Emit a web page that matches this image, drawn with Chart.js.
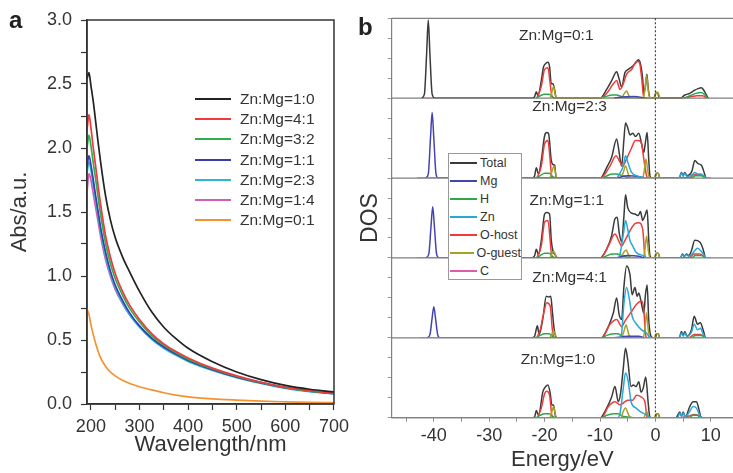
<!DOCTYPE html>
<html>
<head>
<meta charset="utf-8">
<title>Abs dan DOS</title>
<script src="https://cdn.jsdelivr.net/npm/chart.js@4.4.1/dist/chart.umd.min.js"></script>
<style>
  body { margin: 0; width: 733px; height: 473px; overflow: hidden; position: relative; background: #fff; font-family: 'Liberation Sans', Arial, sans-serif; color: #333; }
  canvas { position: absolute; top: 0; }
  #grafikA { left: 0; }
  #grafikB { left: 355px; }
  .hurufPanel { position: absolute; font-size: 24px; font-weight: bold; line-height: 24px; color: #222; }
  #legendaA { position: absolute; left: 195px; top: 89px; }
  .barisA { height: 20.17px; display: flex; align-items: center; font-size: 15.5px; white-space: nowrap; }
  .garisA { width: 36px; height: 0; border-top: 2.5px solid; margin-right: 9px; }
  #legendaB { position: absolute; left: 448px; top: 153px; width: 72px; height: 125px; border: 1px solid #999; background: #fff; }
  .barisB { height: 18.07px; display: flex; align-items: center; font-size: 12.5px; white-space: nowrap; }
  .garisB { width: 27px; height: 0; border-top: 2px solid; margin-left: 1px; margin-right: 3px; }
</style>
</head>
<body>
<canvas id="grafikA" width="355" height="473"></canvas>
<canvas id="grafikB" width="378" height="473"></canvas>
<div class="hurufPanel" style="left:9px;top:8px;">a</div>
<div class="hurufPanel" style="left:358px;top:15px;">b</div>
<div id="legendaA"></div>
<div id="legendaB"></div>
<script>
// 1. Data panel a: serapan (Abs) terhadap panjang gelombang
const panjangGelombang = [192, 196, 200, 205, 210, 215, 220, 230, 240, 250, 265, 280, 300, 325, 350, 375, 400, 450, 500, 550, 600, 650, 700];
const absZn10 = [2.54, 2.59, 2.49, 2.36, 2.20, 2.04, 1.89, 1.63, 1.44, 1.30, 1.15, 1.03, 0.88, 0.72, 0.60, 0.51, 0.435, 0.33, 0.25, 0.19, 0.145, 0.115, 0.095];
const absZn41 = [2.14, 2.26, 2.16, 2.00, 1.85, 1.70, 1.56, 1.32, 1.15, 1.02, 0.88, 0.77, 0.66, 0.55, 0.47, 0.41, 0.36, 0.28, 0.22, 0.17, 0.13, 0.105, 0.085];
const absZn32 = [2.00, 2.10, 2.02, 1.88, 1.75, 1.61, 1.48, 1.26, 1.10, 0.98, 0.85, 0.745, 0.64, 0.535, 0.46, 0.40, 0.35, 0.275, 0.215, 0.168, 0.128, 0.10, 0.083];
const absZn11 = [1.85, 1.94, 1.87, 1.75, 1.62, 1.50, 1.38, 1.19, 1.04, 0.93, 0.81, 0.71, 0.61, 0.515, 0.445, 0.39, 0.34, 0.268, 0.21, 0.165, 0.127, 0.10, 0.082];
const absZn23 = [1.80, 1.89, 1.83, 1.71, 1.59, 1.47, 1.35, 1.16, 1.02, 0.91, 0.79, 0.695, 0.60, 0.505, 0.435, 0.38, 0.333, 0.262, 0.205, 0.16, 0.122, 0.096, 0.08];
const absZn14 = [1.65, 1.80, 1.75, 1.64, 1.53, 1.42, 1.31, 1.13, 1.00, 0.895, 0.785, 0.695, 0.605, 0.515, 0.445, 0.39, 0.343, 0.272, 0.215, 0.17, 0.13, 0.102, 0.08];
const absZn01 = [0.74, 0.70, 0.62, 0.54, 0.47, 0.41, 0.36, 0.295, 0.25, 0.22, 0.185, 0.16, 0.135, 0.11, 0.088, 0.07, 0.056, 0.04, 0.03, 0.022, 0.017, 0.013, 0.01];
const labelRasio = ['Zn:Mg=1:0', 'Zn:Mg=4:1', 'Zn:Mg=3:2', 'Zn:Mg=1:1', 'Zn:Mg=2:3', 'Zn:Mg=1:4', 'Zn:Mg=0:1'];
const seriAbs = [absZn10, absZn41, absZn32, absZn11, absZn23, absZn14, absZn01];
const warnaRasio = ['#222222', '#ee3a3a', '#2fae4e', '#3b3eaa', '#2cb7d9', '#d45db2', '#f6922e'];

// 2. Data panel b: DOS per spesies, satu daftar titik [energi, DOS] untuk tiap sub-panel (atas ke bawah)
const rasioPanel = ['Zn:Mg=0:1', 'Zn:Mg=2:3', 'Zn:Mg=1:1', 'Zn:Mg=4:1', 'Zn:Mg=1:0'];
const spesies = ['Total', 'Mg', 'H', 'Zn', 'O-host', 'O-guest', 'C'];

const dosTotal = [
  [[-42.2,0],[-41.7,0.05],[-41.3,0.55],[-41.0,0.98],[-40.7,0.55],[-40.3,0.05],[-39.8,0],
   [-22.2,0],[-21.8,0.02],[-21.5,0.08],[-21.2,0.03],[-20.6,0.22],[-20.2,0.39],[-19.7,0.44],[-19.4,0.45],[-19.1,0.39],[-18.8,0.18],[-18.5,0.18],[-18.2,0.11],[-17.9,0],
   [-9.9,0],[-9.7,0.01],[-8.8,0.11],[-7.9,0.22],[-7.0,0.33],[-6.55,0.24],[-6.1,0.14],[-5.5,0.32],[-4.9,0.36],[-4.3,0.39],[-3.7,0.43],[-3.1,0.48],[-2.7,0.43],[-2.3,0.24],[-2.1,0.06],[-1.8,0.15],[-1.55,0.3],[-1.3,0.12],[-1.0,0.01],[-0.3,0],[0.1,0.07],[0.4,0.07],[0.7,0],
   [4.5,0],[5.3,0.04],[6.2,0.06],[7.1,0.1],[7.7,0.12],[8.3,0.13],[8.9,0.08],[9.5,0]],
  [[-22.2,0],[-21.8,0.03],[-21.5,0.13],[-21.1,0.05],[-20.6,0.22],[-20.0,0.53],[-19.6,0.57],[-19.3,0.56],[-18.8,0.22],[-18.5,0.17],[-18.2,0.16],[-17.9,0],
   [-9.9,0],[-9.7,0.01],[-8.8,0.13],[-7.9,0.26],[-7.0,0.49],[-6.55,0.32],[-6.1,0.15],[-5.7,0.47],[-5.4,0.69],[-5.0,0.63],[-4.6,0.54],[-4.1,0.56],[-3.6,0.52],[-3.0,0.56],[-2.5,0.43],[-2.1,0.32],[-1.8,0.45],[-1.5,0.57],[-1.2,0.22],[-1.0,0.03],[-0.7,0],[-0.1,0],[0.2,0.06],[0.5,0.06],[0.8,0],
   [4.3,0],[4.7,0.07],[5.0,0.03],[5.3,0.07],[5.7,0.03],[6.6,0.09],[7.1,0.22],[7.7,0.18],[8.3,0.16],[8.7,0.09],[9.1,0]],
  [[-22.2,0],[-21.8,0.03],[-21.5,0.11],[-21.1,0.04],[-20.6,0.22],[-20.0,0.55],[-19.6,0.57],[-19.1,0.55],[-18.8,0.22],[-18.5,0.09],[-18.0,0.03],[-17.7,0],
   [-9.9,0],[-9.7,0.01],[-8.8,0.11],[-7.9,0.28],[-7.3,0.49],[-6.9,0.51],[-6.55,0.32],[-6.1,0.2],[-5.7,0.51],[-5.4,0.79],[-5.0,0.63],[-4.3,0.56],[-3.7,0.55],[-3.1,0.53],[-2.7,0.58],[-2.3,0.47],[-1.9,0.53],[-1.5,0.6],[-1.2,0.22],[-1.0,0.03],[-0.7,0],[-0.1,0],[0.2,0.06],[0.5,0.06],[0.8,0],
   [4.5,0],[4.9,0.05],[5.2,0.02],[5.6,0.05],[6.0,0.03],[6.5,0.09],[7.1,0.22],[8.0,0.2],[8.6,0.11],[9.0,0]],
  [[-22.2,0],[-21.8,0.02],[-21.3,0.15],[-21.0,0.04],[-20.3,0.25],[-19.7,0.52],[-19.3,0.51],[-18.9,0.52],[-18.6,0.33],[-18.3,0.12],[-17.9,0],
   [-9.7,0],[-9.4,0.02],[-8.5,0.14],[-7.6,0.31],[-7.0,0.5],[-6.55,0.29],[-6.1,0.23],[-5.7,0.63],[-5.2,0.9],[-4.6,0.79],[-4.2,0.54],[-3.7,0.63],[-3.3,0.52],[-3.0,0.56],[-2.5,0.42],[-2.1,0.31],[-1.8,0.54],[-1.5,0.66],[-1.2,0.21],[-0.8,0.02],[-0.4,0],[0.0,0],[0.2,0.05],[0.5,0.05],[0.8,0],
   [4.3,0],[4.7,0.08],[5.0,0.03],[5.3,0.08],[5.7,0.02],[6.5,0.1],[7.0,0.27],[7.6,0.17],[8.1,0.19],[8.6,0.1],[9.0,0]],
  [[-22.2,0],[-21.8,0.01],[-21.5,0.09],[-21.1,0.03],[-20.3,0.33],[-19.8,0.39],[-19.4,0.41],[-19.0,0.31],[-18.7,0.16],[-18.4,0.16],[-18.0,0.01],[-17.7,0],
   [-9.9,0],[-9.7,0.01],[-8.8,0.12],[-7.9,0.26],[-7.3,0.39],[-6.7,0.2],[-6.3,0.3],[-5.8,0.62],[-5.4,0.87],[-5.0,0.72],[-4.4,0.39],[-4.0,0.41],[-3.5,0.39],[-3.0,0.45],[-2.6,0.32],[-2.2,0.37],[-1.75,0.51],[-1.3,0.18],[-1.0,0.01],[-0.6,0],[0.0,0],[0.2,0.05],[0.5,0.05],[0.8,0],
   [3.7,0],[4.4,0.07],[4.7,0.02],[5.0,0.07],[5.4,0.01],[6.2,0.14],[6.8,0.2],[7.4,0.2],[7.8,0.12],[8.2,0.01],[8.5,0]]
];
const dosMg = [
  [[-7.5,0],[-6.0,0.015],[-4.0,0.02],[-2.5,0.01],[-2.0,0]],
  [[-41.5,0],[-41.0,0.05],[-40.6,0.5],[-40.3,0.82],[-40.0,0.5],[-39.6,0.05],[-39.2,0],[-7.5,0],[-5.0,0.03],[-3.0,0.02],[-2.0,0]],
  [[-41.4,0],[-40.9,0.05],[-40.5,0.4],[-40.2,0.64],[-39.9,0.4],[-39.5,0.05],[-39.1,0],[-7.5,0],[-5.0,0.03],[-3.0,0.02],[-2.0,0]],
  [[-41.2,0],[-40.7,0.04],[-40.3,0.25],[-40.0,0.39],[-39.7,0.25],[-39.3,0.04],[-38.9,0],[-7.5,0],[-5.0,0.02],[-3.0,0.02],[-2.0,0]],
  []
];
const dosH = [
  [[-21.5,0],[-20.8,0.03],[-20.0,0.05],[-19.2,0.05],[-18.6,0.02],[-18.0,0],[-9.8,0],[-9.0,0.02],[-7.8,0.04],[-7.0,0.04],[-6.0,0.02],[-5.0,0.01],[-4.0,0],[5.0,0],[6.2,0.03],[7.3,0.06],[8.2,0.07],[8.8,0.05],[9.4,0]],
  [[-21.5,0],[-20.8,0.03],[-20.0,0.06],[-19.2,0.06],[-18.6,0.02],[-18.0,0],[-9.8,0],[-9.0,0.02],[-7.8,0.05],[-7.0,0.05],[-6.0,0.03],[-5.0,0.01],[-4.0,0],[6.5,0],[7.2,0.03],[8.3,0.03],[9.0,0]],
  [[-21.5,0],[-20.8,0.03],[-20.0,0.06],[-19.2,0.06],[-18.6,0.02],[-18.0,0],[-9.8,0],[-9.0,0.02],[-7.8,0.05],[-7.0,0.05],[-6.0,0.03],[-5.0,0.01],[-4.0,0],[6.5,0],[7.2,0.03],[8.3,0.03],[9.0,0]],
  [[-21.5,0],[-20.8,0.03],[-20.0,0.05],[-19.2,0.05],[-18.6,0.02],[-18.0,0],[-9.6,0],[-8.8,0.03],[-7.6,0.05],[-6.8,0.05],[-6.0,0.02],[-5.0,0.01],[-4.0,0],[6.5,0],[7.2,0.03],[8.3,0.03],[9.0,0]],
  [[-21.5,0],[-20.8,0.03],[-20.0,0.05],[-19.2,0.05],[-18.6,0.02],[-18.0,0],[-9.6,0],[-8.8,0.03],[-7.6,0.05],[-6.8,0.05],[-6.0,0.02],[-5.0,0.01],[-4.0,0],[6.0,0],[6.8,0.03],[7.5,0.03],[8.1,0]]
];
const dosZn = [
  [],
  [[-43.0,0],[-7.0,0],[-6.7,0.03],[-5.8,0.15],[-5.4,0.28],[-5.0,0.2],[-4.3,0.07],[-3.5,0.03],[-2.3,0.01],[-1.5,0],[4.2,0],[4.7,0.06],[5.0,0.02],[5.3,0.06],[5.7,0.02],[6.6,0.04],[7.1,0.07],[7.7,0.05],[8.1,0.05],[8.7,0.03],[9.2,0],[10.0,0]],
  [[-43.0,0],[-6.8,0],[-6.4,0.05],[-5.7,0.34],[-5.4,0.47],[-5.0,0.36],[-4.6,0.22],[-4.1,0.15],[-3.5,0.07],[-2.3,0.03],[-1.5,0],[4.4,0],[4.9,0.04],[5.2,0.02],[5.6,0.04],[6.0,0.02],[6.6,0.05],[7.2,0.1],[7.6,0.12],[8.3,0.08],[8.8,0.03],[9.2,0],[10.0,0]],
  [[-9.0,0],[-6.5,0],[-6.1,0.06],[-5.7,0.42],[-5.2,0.63],[-4.7,0.48],[-4.2,0.27],[-3.4,0.17],[-2.5,0.1],[-1.6,0.06],[-1.2,0.02],[-0.8,0],[4.3,0],[4.7,0.06],[5.0,0.02],[5.3,0.06],[5.7,0.02],[6.5,0.07],[7.0,0.17],[7.6,0.1],[8.1,0.12],[8.6,0.05],[9.0,0]],
  [[-9.0,0],[-6.8,0],[-6.4,0.05],[-5.8,0.37],[-5.4,0.56],[-4.9,0.45],[-4.4,0.2],[-3.5,0.12],[-2.6,0.07],[-1.75,0.04],[-1.2,0.01],[-0.8,0],[4.0,0],[4.4,0.06],[4.7,0.02],[5.0,0.06],[5.4,0.01],[6.2,0.08],[6.8,0.14],[7.4,0.12],[7.8,0.06],[8.2,0]]
];
const dosOHost = [
  [[-21.4,0],[-20.6,0.15],[-20.0,0.36],[-19.4,0.38],[-19.0,0.18],[-18.7,0.03],[-18.4,0],[-9.9,0],[-8.8,0.06],[-7.6,0.18],[-7.0,0.22],[-6.4,0.11],[-5.8,0.18],[-5.2,0.3],[-4.3,0.36],[-3.4,0.46],[-2.9,0.45],[-2.5,0.26],[-2.1,0.01],[-1.8,0],[5.0,0],[6.5,0.02],[7.5,0.03],[8.5,0.03],[9.3,0]],
  [[-21.4,0],[-20.6,0.15],[-20.0,0.43],[-19.4,0.47],[-19.0,0.22],[-18.7,0.01],[-18.4,0],[-9.9,0],[-8.2,0.15],[-7.1,0.28],[-6.55,0.22],[-5.9,0.15],[-5.2,0.24],[-4.3,0.38],[-3.6,0.47],[-3.0,0.47],[-2.5,0.43],[-2.1,0.24],[-1.6,0.03],[-1.3,0],[6.0,0],[7.0,0.04],[8.0,0.04],[8.7,0.02],[9.1,0]],
  [[-21.4,0],[-20.6,0.15],[-20.0,0.45],[-19.4,0.47],[-19.0,0.22],[-18.7,0.01],[-18.4,0],[-9.9,0],[-8.5,0.15],[-7.3,0.3],[-6.55,0.2],[-6.1,0.15],[-5.5,0.22],[-4.6,0.34],[-3.7,0.43],[-3.0,0.44],[-2.3,0.36],[-1.9,0.03],[-1.6,0],[6.0,0],[7.0,0.05],[8.0,0.05],[8.7,0.02],[9.1,0]],
  [[-21.4,0],[-20.8,0.1],[-20.2,0.3],[-19.6,0.44],[-19.0,0.4],[-18.6,0.1],[-18.3,0],[-9.7,0],[-8.2,0.17],[-7.0,0.23],[-6.1,0.14],[-5.5,0.21],[-4.3,0.33],[-3.4,0.42],[-2.5,0.46],[-2.1,0.35],[-1.8,0.05],[-1.5,0],[6.0,0],[7.0,0.04],[8.0,0.04],[8.7,0.02],[9.1,0]],
  [[-21.3,0],[-20.6,0.12],[-20.0,0.3],[-19.6,0.33],[-19.1,0.28],[-18.7,0.03],[-18.4,0],[-9.7,0],[-8.5,0.14],[-7.3,0.2],[-6.4,0.16],[-5.5,0.2],[-5.0,0.22],[-4.1,0.22],[-3.4,0.28],[-2.6,0.26],[-1.9,0.2],[-1.5,0.01],[-1.2,0],[4.5,0],[6.0,0.02],[7.0,0.04],[7.8,0.03],[8.2,0]]
];
const dosOGuest = [
  [[-19.0,0],[-18.6,0.1],[-18.4,0.15],[-18.1,0.05],[-17.8,0],[-6.2,0],[-5.6,0.06],[-5.2,0.09],[-4.8,0.03],[-4.3,0],[-2.2,0],[-1.9,0.1],[-1.6,0.28],[-1.3,0.1],[-1.0,0],[-0.2,0],[0.15,0.07],[0.45,0.07],[0.8,0]],
  [[-19.0,0],[-18.6,0.1],[-18.3,0.15],[-18.0,0.05],[-17.8,0],[-6.3,0],[-5.8,0.07],[-5.4,0.15],[-4.8,0.03],[-4.3,0],[-2.3,0],[-2.0,0.1],[-1.7,0.24],[-1.4,0.1],[-1.1,0],[-0.2,0],[0.15,0.06],[0.45,0.06],[0.8,0]],
  [[-19.0,0],[-18.6,0.06],[-18.3,0.08],[-18.0,0.03],[-17.8,0],[-6.3,0],[-5.8,0.06],[-5.3,0.1],[-4.8,0.03],[-4.3,0],[-2.2,0],[-1.9,0.1],[-1.6,0.27],[-1.3,0.1],[-1.0,0],[-0.2,0],[0.15,0.06],[0.45,0.06],[0.8,0]],
  [[-19.0,0],[-18.6,0.06],[-18.3,0.08],[-18.0,0.03],[-17.8,0],[-6.2,0],[-5.7,0.08],[-5.3,0.16],[-4.8,0.04],[-4.3,0],[-2.2,0],[-1.9,0.12],[-1.6,0.31],[-1.3,0.1],[-1.0,0],[-0.2,0],[0.15,0.05],[0.45,0.05],[0.8,0]],
  [[-19.0,0],[-18.6,0.1],[-18.4,0.14],[-18.1,0.05],[-17.8,0],[-6.2,0],[-5.8,0.08],[-5.4,0.12],[-4.8,0.03],[-4.3,0],[-2.1,0],[-1.8,0.05],[-1.6,0.08],[-1.3,0.03],[-1.0,0],[-0.2,0],[0.15,0.05],[0.45,0.05],[0.8,0]]
];
const dosC = [
  [[-41.8,0],[-40.2,0]],
  [],
  [],
  [[-42.5,0],[9.2,0]],
  [[-24.2,0],[10.0,0]]
];
const warnaSpesies = ['#3a3a3a', '#4444b0', '#2aa84a', '#28a8d4', '#ee3b3b', '#a8a028', '#e25aaa'];

// 3. Pengaturan umum
Chart.defaults.font.family = "'Liberation Sans', Arial, sans-serif";
Chart.defaults.color = '#333';

// Plugin bingkai kotak untuk panel a
const bingkaiA = {
  id: 'bingkaiA',
  afterDatasetsDraw(chart) {
    const a = chart.chartArea;
    const c = chart.ctx;
    c.save();
    c.strokeStyle = '#333';
    c.lineWidth = 1.5;
    c.strokeRect(a.left, a.top, a.right - a.left, a.bottom - a.top);
    c.restore();
  }
};

// Plugin garis pemisah sub-panel, garis Fermi dan label rasio untuk panel b
const posisiLabel = [[-17.9, 0.78], [-15.5, 0.89], [-16.0, 0.72], [-15.5, 0.75], [-17.6, 0.72]];
const bingkaiB = {
  id: 'bingkaiB',
  beforeDatasetsDraw(chart) {
    const a = chart.chartArea;
    const c = chart.ctx;
    c.save();
    c.strokeStyle = '#808080';
    c.lineWidth = 1.2;
    c.beginPath();
    c.moveTo(a.left, a.top);
    c.lineTo(a.right, a.top);
    rasioPanel.forEach(function(nama, p) {
      const y = chart.scales['y' + p].getPixelForValue(0);
      c.moveTo(a.left, y);
      c.lineTo(a.right, y);
    });
    c.stroke();
    c.restore();
  },
  afterDatasetsDraw(chart) {
    const a = chart.chartArea;
    const c = chart.ctx;
    const x0 = chart.scales.x.getPixelForValue(0);
    c.save();
    c.strokeStyle = '#444';
    c.lineWidth = 1.2;
    c.setLineDash([2, 2]);
    c.beginPath();
    c.moveTo(x0, a.top);
    c.lineTo(x0, a.bottom);
    c.stroke();
    c.setLineDash([]);
    c.fillStyle = '#333';
    c.font = "15.5px 'Liberation Sans', Arial, sans-serif";
    c.textAlign = 'center';
    c.textBaseline = 'middle';
    rasioPanel.forEach(function(nama, p) {
      const px = chart.scales.x.getPixelForValue(posisiLabel[p][0]);
      const py = chart.scales['y' + p].getPixelForValue(posisiLabel[p][1]);
      c.fillText(nama, px, py);
    });
    c.restore();
  }
};

// 4. Grafik panel a
new Chart(document.getElementById('grafikA'), {
  type: 'line',
  data: {
    datasets: seriAbs.map(function(nilai, i) {
      return {
        label: labelRasio[i],
        data: panjangGelombang.map(function(x, j) { return { x: x, y: nilai[j] }; }),
        borderColor: warnaRasio[i],
        borderWidth: 1.7,
        pointRadius: 0,
        cubicInterpolationMode: 'monotone',
        fill: false
      };
    })
  },
  options: {
    responsive: false,
    animation: false,
    events: [],
    layout: { padding: { top: 20, right: 16, left: 0, bottom: 0 } },
    plugins: { legend: { display: false }, tooltip: { enabled: false } },
    scales: {
      x: {
        type: 'linear', min: 192, max: 700,
        ticks: { stepSize: 50, includeBounds: false, autoSkip: false, maxRotation: 0, padding: 6, font: { size: 18 },
          callback: function(v) { return v % 100 === 0 ? String(v) : ''; } },
        grid: { drawOnChartArea: false, tickLength: 6, color: '#333', tickWidth: 1.2 },
        border: { color: '#333', width: 1.5 },
        title: { display: true, text: 'Wavelength/nm', font: { size: 22 }, padding: { top: 0, bottom: 15 } },
        afterFit: function(s) { s.height = 69; }
      },
      y: {
        type: 'linear', min: 0, max: 3,
        ticks: { stepSize: 0.25, autoSkip: false, padding: 9, font: { size: 18 },
          callback: function(v) { return Math.abs(v * 2 - Math.round(v * 2)) < 1e-6 ? v.toFixed(1) : ''; } },
        grid: { drawOnChartArea: false, tickLength: 6, color: '#333', tickWidth: 1.2 },
        border: { color: '#333', width: 1.5 },
        title: { display: true, text: 'Abs/a.u.', font: { size: 22 }, padding: { top: 7, bottom: 0 } },
        afterFit: function(s) { s.width = 87; }
      }
    }
  },
  plugins: [bingkaiA]
});

// 5. Grafik panel b: lima sumbu y yang ditumpuk
const skalaB = {
  x: {
    type: 'linear', min: -47.6, max: 14,
    ticks: { stepSize: 5, includeBounds: false, autoSkip: false, maxRotation: 0, padding: 4, font: { size: 18 },
      callback: function(v) { return v % 10 === 0 ? String(v) : ''; } },
    grid: { drawOnChartArea: false, tickLength: 4, color: '#888' },
    border: { color: '#808080', width: 1.2 },
    title: { display: true, text: 'Energy/eV', font: { size: 22 }, padding: { top: 0, bottom: 0 } },
    afterFit: function(s) { s.height = 55.3; }
  }
};
for (let p = rasioPanel.length - 1; p >= 0; p--) {
  skalaB['y' + p] = {
    type: 'linear', position: 'left', stack: 'dos', stackWeight: 1, min: 0, max: 1,
    ticks: { display: false, stepSize: 0.25 },
    grid: { drawOnChartArea: false, tickLength: 4, color: '#999' },
    border: { color: '#808080', width: 1.2 },
    title: { display: p === 2, text: 'DOS', font: { size: 23 }, padding: { top: 2, bottom: 0 } },
    afterFit: function(s) { s.width = 36.7; }
  };
}

const urutanGambar = [6, 3, 1, 5, 2, 4, 0]; // C paling atas, Total paling bawah
const dataSpesies = [dosTotal, dosMg, dosH, dosZn, dosOHost, dosOGuest, dosC];
const datasetB = [];
urutanGambar.forEach(function(s) {
  dataSpesies[s].forEach(function(titik, p) {
    if (titik.length === 0) return;
    datasetB.push({
      label: spesies[s],
      data: titik.map(function(t) { return { x: t[0], y: t[1] }; }),
      yAxisID: 'y' + p,
      borderColor: warnaSpesies[s],
      borderWidth: 1.5,
      pointRadius: 0,
      cubicInterpolationMode: 'monotone',
      fill: false
    });
  });
});

new Chart(document.getElementById('grafikB'), {
  type: 'line',
  data: { datasets: datasetB },
  options: {
    responsive: false,
    animation: false,
    events: [],
    layout: { padding: { top: 18.3, right: 0, left: 0, bottom: 0 } },
    plugins: { legend: { display: false }, tooltip: { enabled: false } },
    scales: skalaB
  },
  plugins: [bingkaiB]
});

// 6. Legenda HTML
const legendaA = document.getElementById('legendaA');
labelRasio.forEach(function(nama, i) {
  const baris = document.createElement('div');
  baris.className = 'barisA';
  baris.innerHTML = '<span class="garisA" style="border-color:' + warnaRasio[i] + '"></span>' + nama;
  legendaA.appendChild(baris);
});
const legendaB = document.getElementById('legendaB');
spesies.forEach(function(nama, i) {
  const baris = document.createElement('div');
  baris.className = 'barisB';
  baris.innerHTML = '<span class="garisB" style="border-color:' + warnaSpesies[i] + '"></span>' + nama;
  legendaB.appendChild(baris);
});
</script>
</body>
</html>
